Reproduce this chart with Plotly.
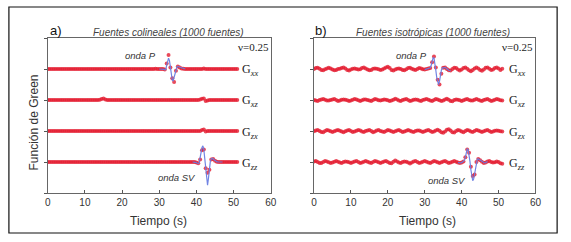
import plotly.graph_objects as go

W, H = 571, 242

# ---------------- data ----------------
T = [0, 0.5, 1, 1.5, 2, 2.5, 3, 3.5, 4, 4.5,
     5, 5.5, 6, 6.5, 7, 7.5, 8, 8.5, 9, 9.5,
     10, 10.5, 11, 11.5, 12, 12.5, 13, 13.5, 14, 14.5,
     15, 15.5, 16, 16.5, 17, 17.5, 18, 18.5, 19, 19.5,
     20, 20.5, 21, 21.5, 22, 22.5, 23, 23.5, 24, 24.5,
     25, 25.5, 26, 26.5, 27, 27.5, 28, 28.5, 29, 29.5,
     30, 30.5, 31, 31.5, 32, 32.5, 33, 33.5, 34, 34.5,
     35, 35.5, 36, 36.5, 37, 37.5, 38, 38.5, 39, 39.5,
     40, 40.5, 41, 41.5, 42, 42.5, 43, 43.5, 44, 44.5,
     45, 45.5, 46, 46.5, 47, 47.5, 48, 48.5, 49, 49.5,
     50, 50.5, 51]

# Panel a) collinear sources: numerical (red markers)
A_GXX = [0, 0, 0, 0, 0, 0, 0, 0, 0, 0,
         0, 0, 0, 0, 0, 0, 0, 0, 0, 0,
         0, 0, 0, 0, 0, 0, 0, 0, 0, 0,
         0, 0, 0, 0, 0, 0, 0, 0, 0, 0,
         0, 0, 0, 0, 0, 0, 0, 0, 0, 0,
         0, 0, 0, 0, 0, 0, 0, 0, 0.01, 0,
         0, 0, 0, -0.02, 0.18, 0.45, 0.05, -0.3, -0.42, -0.06,
         0.08, 0.05, 0.02, 0.01, 0, 0, 0, 0, 0, 0,
         0, 0, 0, 0, 0.02, 0, 0, 0, 0, 0,
         0, 0, 0, 0, 0, 0, 0, 0, 0, 0,
         0, 0, 0]
A_GXZ = [0, 0, 0, 0, 0, 0, 0, 0, 0, 0,
         0, 0, 0, 0, 0, 0, 0, 0, 0, 0,
         0, 0, 0, 0, 0, 0, 0, 0, 0.01, 0.03,
         0.05, 0.02, 0, 0, 0, 0, 0, 0, 0, 0,
         0, 0, 0, 0, 0, 0, 0, 0, 0, 0,
         0, 0, 0, 0, 0, 0, 0, 0, 0, 0,
         0, 0, 0, 0, 0, 0, 0, 0, 0, 0,
         0, 0, 0, 0, 0, 0, 0, 0, 0, 0,
         0, 0, 0.02, 0.04, 0.05, -0.03, -0.02, 0, 0, 0,
         0, 0, 0, 0, 0, 0, 0, 0, 0, 0,
         0, 0, 0]
A_GZX = [0, 0, 0, 0, 0, 0, 0, 0, 0, 0,
         0, 0, 0, 0, 0, 0, 0, 0, 0, 0,
         0, 0, 0, 0, 0, 0, 0, 0, 0, 0,
         0, 0, 0, 0, 0, 0, 0, 0, 0, 0,
         0, 0, 0, 0, 0, 0, 0, 0, 0, 0,
         0, 0, 0, 0, 0, 0, 0, 0, 0, 0,
         0, 0, 0, 0, 0, 0, 0, 0, 0, 0,
         0, 0, 0, 0, 0, 0, 0, 0, 0, 0,
         0, 0, 0, 0.03, 0.05, -0.02, 0, 0, 0, 0,
         0, 0, 0, 0, 0, 0, 0, 0, 0, 0,
         0, 0, 0]
A_GZZ = [0, 0, 0, 0, 0, 0, 0, 0, 0, 0,
         0, 0, 0, 0, 0, 0, 0, 0, 0, 0,
         0, 0, 0, 0, 0, 0, 0, 0, 0, 0,
         0, 0, 0, 0, 0, 0, 0, 0, 0, 0,
         0, 0, 0, 0, 0, 0, 0, 0, 0, 0,
         0, 0, 0, 0, 0, 0, 0, 0, 0, 0,
         0, 0, 0, 0, 0, 0, 0, 0, 0, 0,
         0, 0, 0, 0, 0, 0, 0, 0, 0, 0,
         -0.02, -0.04, 0.08, 0.38, 0.4, -0.2, -0.35, -0.25, 0.08, 0.1,
         0.04, 0.01, 0, 0, 0, 0, 0, 0, 0, 0,
         0, 0, 0]

# Panel b) isotropic sources: numerical (red markers)
B_GXX = [0.0, 0.03, 0.04, 0.01, -0.03, -0.04, -0.01, 0.02, 0.04, 0.02,
         -0.02, -0.04, -0.03, 0.0, 0.01, 0.03, 0.05, 0.02, -0.03, -0.05,
         -0.02, 0.01, 0.02, 0.0, -0.02, -0.01, 0.03, 0.05, 0.02, -0.02,
         -0.04, -0.03, 0.01, 0.02, 0.01, -0.01, -0.03, -0.02, 0.02, 0.05,
         0.07, 0.03, -0.03, -0.05, -0.02, 0.01, 0.02, 0.0, -0.03, -0.04,
         -0.01, 0.03, 0.04, 0.01, -0.02, -0.03, 0.0, 0.03, 0.02, -0.01,
         -0.02, 0.0, 0.02, 0.03, 0.22, 0.4, 0.05, -0.35, -0.5, -0.15,
         0.04, 0.05, 0.0, -0.04, -0.05, 0.0, 0.04, 0.03, -0.02, -0.05,
         -0.02, 0.03, 0.05, 0.01, -0.04, -0.07, -0.03, 0.02, 0.05, 0.02,
         -0.03, -0.06, -0.02, 0.04, 0.05, 0.01, -0.03, -0.02, 0.03, 0.05,
         0.02, -0.03, 0.01]
B_GXZ = [0.0, -0.02, -0.03, 0.0, 0.02, 0.03, 0.01, -0.02, -0.02, 0.0,
         0.02, 0.03, 0.0, -0.03, -0.02, 0.01, 0.02, 0.01, -0.01, -0.03,
         -0.02, 0.01, 0.03, 0.02, -0.01, -0.03, -0.01, 0.02, 0.02, 0.0,
         -0.02, -0.03, 0.0, 0.03, 0.02, -0.01, -0.02, 0.0, 0.02, 0.01,
         -0.01, -0.03, -0.02, 0.01, 0.04, 0.02, -0.02, -0.03, 0.0, 0.02,
         0.03, 0.0, -0.03, -0.02, 0.01, 0.02, 0.01, -0.02, -0.03, 0.0,
         0.02, 0.03, 0.01, -0.02, -0.03, 0.0, 0.03, 0.02, -0.01, -0.03,
         -0.02, 0.02, 0.04, 0.01, -0.03, -0.04, 0.0, 0.02, 0.01, -0.01,
         -0.03, -0.01, 0.02, 0.03, 0.0, -0.02, -0.02, 0.01, 0.03, 0.01,
         -0.02, -0.03, 0.0, 0.02, 0.03, 0.0, -0.03, -0.02, 0.01, 0.03,
         0.02, -0.01, -0.02]
B_GZX = [-0.01, 0.02, 0.03, 0.0, -0.03, -0.04, 0.0, 0.03, 0.02, -0.01,
         -0.03, -0.01, 0.02, 0.03, 0.01, -0.02, -0.04, -0.01, 0.02, 0.03,
         0.0, -0.03, -0.02, 0.01, 0.03, 0.02, -0.02, -0.03, 0.0, 0.02,
         0.03, 0.0, -0.04, -0.02, 0.02, 0.03, 0.0, -0.02, -0.03, 0.0,
         0.03, 0.02, -0.01, -0.03, -0.01, 0.02, 0.03, 0.0, -0.03, -0.02,
         0.01, 0.03, 0.01, -0.02, -0.03, 0.0, 0.02, 0.02, -0.01, -0.03,
         -0.01, 0.02, 0.03, 0.0, -0.03, -0.02, 0.02, 0.04, 0.01, -0.04,
         -0.06, -0.02, 0.04, 0.06, 0.02, -0.04, -0.05, 0.0, 0.03, 0.02,
         -0.02, -0.04, 0.0, 0.03, 0.02, -0.02, -0.03, 0.0, 0.03, 0.02,
         -0.01, -0.03, -0.01, 0.02, 0.03, 0.0, -0.03, -0.02, 0.01, 0.02,
         0.01, -0.01, -0.02]
B_GZZ = [0.02, 0.03, 0.0, -0.03, -0.03, 0.0, 0.03, 0.02, -0.01, -0.03,
         -0.02, 0.01, 0.03, 0.01, -0.02, -0.03, 0.0, 0.02, 0.01, -0.01,
         -0.03, -0.01, 0.02, 0.03, 0.0, -0.03, -0.02, 0.01, 0.03, 0.01,
         -0.02, -0.03, 0.0, 0.03, 0.02, -0.01, -0.03, -0.01, 0.02, 0.03,
         0.0, -0.03, -0.04, 0.01, 0.05, 0.02, -0.02, -0.03, 0.0, 0.02,
         0.01, -0.02, -0.05, -0.02, 0.02, 0.03, 0.0, -0.03, -0.02, 0.01,
         0.03, 0.01, -0.02, -0.03, 0.0, 0.03, 0.02, -0.01, -0.03, -0.01,
         0.02, 0.03, 0.0, -0.03, -0.02, 0.01, 0.03, 0.01, -0.02, -0.03,
         -0.02, 0.02, 0.15, 0.4, 0.3, -0.15, -0.45, -0.4, 0.0, 0.1,
         0.06, 0.01, -0.03, -0.02, 0.02, 0.03, 0.0, -0.02, -0.01, 0.02,
         0.0, -0.04, -0.06]

# analytical solutions (blue line) around the P and SV arrivals
T_P = [30, 30.25, 30.5, 30.75, 31, 31.25, 31.5, 31.75, 32, 32.25,
       32.5, 32.75, 33, 33.25, 33.5, 33.75, 34, 34.25, 34.5, 34.75,
       35, 35.25, 35.5, 35.75, 36, 36.25, 36.5, 36.75, 37]
T_S = [39, 39.25, 39.5, 39.75, 40, 40.25, 40.5, 40.75, 41, 41.25,
       41.5, 41.75, 42, 42.25, 42.5, 42.75, 43, 43.25, 43.5, 43.75,
       44, 44.25, 44.5, 44.75, 45, 45.25, 45.5, 45.75, 46, 46.25,
       46.5, 46.75, 47]
A_GXX_AN = [0, 0, 0, 0, 0, -0.01, -0.03, -0.02, 0.12, 0.28,
            0.35, 0.27, 0.05, -0.2, -0.36, -0.38, -0.28, -0.12, 0.0, 0.06,
            0.08, 0.07, 0.05, 0.03, 0.02, 0.01, 0, 0, 0]
A_GZZ_AN = [0, 0, 0, -0.01, -0.02, -0.04, -0.05, -0.02, 0.1, 0.3,
            0.47, 0.52, 0.4, 0.1, -0.35, -0.68, -0.75, -0.52, -0.2, 0.02,
            0.1, 0.12, 0.1, 0.07, 0.04, 0.02, 0.01, 0, 0, 0,
            0, 0, 0]
B_GXX_AN = [-0.02, -0.01, 0.0, 0.01, 0.02, 0.03, 0.04, 0.12, 0.26, 0.36,
            0.36, 0.2, -0.04, -0.28, -0.46, -0.5, -0.4, -0.2, -0.04, 0.03,
            0.04, 0.05, 0.05, 0.03, 0.0, -0.02, -0.04, -0.05, -0.05]
B_GZZ_AN = [-0.02, -0.03, -0.03, -0.03, -0.02, 0.0, 0.02, 0.06, 0.15, 0.3,
            0.42, 0.4, 0.26, 0.02, -0.25, -0.5, -0.6, -0.55, -0.38, -0.14,
            0.02, 0.09, 0.1, 0.08, 0.06, 0.03, 0.01, -0.01, -0.03, -0.03,
            -0.02, 0.0, 0.02]

COMPONENTS = ["xx", "xz", "zx", "zz"]
OFFSETS = [4, 3, 2, 1]
X_TICKS = [0, 10, 20, 30, 40, 50, 60]

# ---------------- figure ----------------
RED = "rgba(228,28,48,0.8)"
BLUE = "rgba(105,125,225,0.95)"

fig = go.Figure()

panels = [
    ("x", "y", [A_GXX, A_GXZ, A_GZX, A_GZZ], A_GXX_AN, A_GZZ_AN),
    ("x2", "y2", [B_GXX, B_GXZ, B_GZX, B_GZZ], B_GXX_AN, B_GZZ_AN),
]
for xa, ya, series, pan, san in panels:
    for vals, off in zip(series, OFFSETS):
        fig.add_trace(go.Scatter(
            x=T, y=[v + off for v in vals], mode="markers",
            marker=dict(size=4, color=RED, line=dict(width=0)),
            xaxis=xa, yaxis=ya, showlegend=False, hoverinfo="skip"))
    fig.add_trace(go.Scatter(
        x=T_P, y=[v + OFFSETS[0] for v in pan], mode="lines",
        line=dict(color=BLUE, width=1.2), xaxis=xa, yaxis=ya,
        showlegend=False, hoverinfo="skip"))
    fig.add_trace(go.Scatter(
        x=T_S, y=[v + OFFSETS[3] for v in san], mode="lines",
        line=dict(color=BLUE, width=1.2), xaxis=xa, yaxis=ya,
        showlegend=False, hoverinfo="skip"))


def px(x):
    return x / W


def py(y):
    return 1 - y / H


AX_TOP, AX_BOT = 38, 193
LEFT = (45.5, 272)
RIGHT = (316, 541)

xcommon = dict(range=[0, 60], tickvals=X_TICKS, ticks="inside", ticklen=3,
               tickcolor="#555", showline=True, linecolor="#666", linewidth=1,
               mirror=True, showgrid=False, zeroline=False,
               tickfont=dict(family="Liberation Sans, Arial", size=10, color="#333"))
ycommon = dict(range=[0, 5], tickvals=[0, 1, 2, 3, 4, 5], ticks="outside",
               ticklen=3, tickcolor="#555", showticklabels=False,
               showline=True, linecolor="#666", linewidth=1, mirror=True,
               showgrid=False, zeroline=False,
               domain=[py(AX_BOT), py(AX_TOP)])

fig.update_layout(
    width=W, height=H, margin=dict(l=0, r=0, t=0, b=0),
    paper_bgcolor="white", plot_bgcolor="white",
    xaxis=dict(domain=[px(LEFT[0]), px(LEFT[1])], anchor="y", **xcommon),
    yaxis=dict(anchor="x", **ycommon),
    xaxis2=dict(domain=[px(RIGHT[0]), px(RIGHT[1])], anchor="y2", **xcommon),
    yaxis2=dict(anchor="x2", **ycommon),
)

SANS = "Liberation Sans, Arial"
SERIF = "Liberation Serif, Times New Roman"
ann = []


def add(text, x, y, size, xanchor="center", family=SANS, color="#333", angle=0):
    ann.append(dict(text=text, x=px(x), y=py(y), xref="paper", yref="paper",
                    showarrow=False, xanchor=xanchor, yanchor="middle",
                    textangle=angle,
                    font=dict(family=family, size=size, color=color)))


# panel a
add("a)", 46, 30, 13, "left", color="#111")
add("<i>Fuentes colineales (1000 fuentes)</i>", 168, 32, 10, color="#444")
add("ν=0.25", 272, 47, 11, "right", family=SERIF, color="#222")
add("<i>onda P</i>", 140, 55, 9.5)
add("<i>onda SV</i>", 177, 177, 9.5)
# panel b
add("b)", 315, 30, 13, "left", color="#111")
add("<i>Fuentes isotrópicas (1000 fuentes)</i>", 437, 32, 10, color="#444")
add("ν=0.25", 541, 47, 11, "right", family=SERIF, color="#222")
add("<i>onda P</i>", 415, 55, 9.5)
add("<i>onda SV</i>", 451, 180, 9.5)

ybase = {4: 69, 3: 100, 2: 132, 1: 163}
for comp, off in zip(COMPONENTS, OFFSETS):
    lab = "G<sub><i>%s</i></sub>" % comp
    add(lab, 241, ybase[off] + 1, 12, "left", family=SERIF, color="#222")
    add(lab, 512, ybase[off] + 1, 12, "left", family=SERIF, color="#222")

add("Función de Green", 31, 123, 12, angle=-90)
add("Tiempo (s)", 158, 221, 12)
add("Tiempo (s)", 431, 221, 12)

fig.update_layout(annotations=ann)

fig.add_shape(type="rect", xref="paper", yref="paper",
              x0=px(6), x1=px(563), y0=py(233), y1=py(7),
              line=dict(color="#111", width=1.2))

fig.write_html("out.html",
               config={"displayModeBar": False, "staticPlot": True},
               post_script="document.body.style.margin='0px';"
                           "document.body.style.overflow='hidden';")
